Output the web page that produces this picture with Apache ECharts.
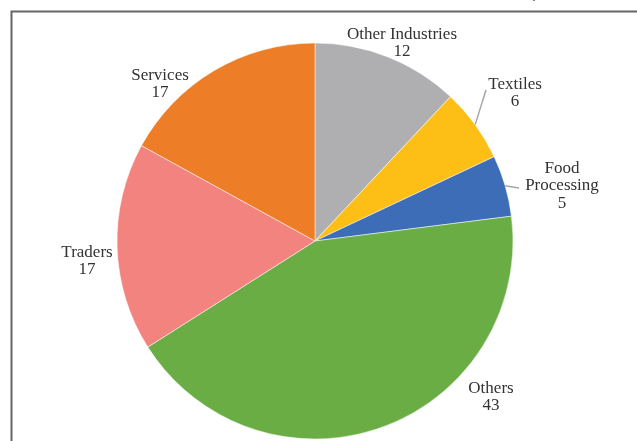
<!DOCTYPE html>
<html>
<head>
<meta charset="utf-8">
<script src="https://cdn.jsdelivr.net/npm/echarts@6/dist/echarts.min.js"></script>
<style>
html,body{margin:0;padding:0;background:#fff;}
#main{width:637px;height:441px;}
</style>
</head>
<body>
<div id="main"></div>
<script>
var categories = ['Other Industries', 'Textiles', 'Food Processing', 'Others', 'Traders', 'Services'];
var labelTexts = ['Other Industries', 'Textiles', 'Food\nProcessing', 'Others', 'Traders', 'Services'];
var values = [12, 6, 5, 43, 17, 17];
var colors = ['#AFAFB1', '#FDBF15', '#3E6DB8', '#6AAD45', '#F2837F', '#ED7D27'];

var labelPos = [
  [402, 43], [515, 93], [562, 186], [491, 397], [87, 261], [160, 84]
];
var lineEnds = [null, [486, 90], [519, 188], null, null, null];

var chart = echarts.init(document.getElementById('main'));
var data = categories.map(function (c, i) {
  var showLine = (i === 1 || i === 2);
  return {
    name: c,
    value: values[i],
    itemStyle: { color: colors[i] },
    label: { formatter: labelTexts[i] + '\n' + values[i] },
    labelLine: { show: showLine }
  };
});

chart.setOption({
  animation: false,
  graphic: [
    { type: 'rect', shape: { x: 11.5, y: 11.5, width: 640, height: 440 },
      style: { fill: 'none', stroke: '#666', lineWidth: 2 } },
    { type: 'text', x: 529, y: -10, style: { text: '4', font: '14px "Liberation Serif"', fill: '#333' } }
  ],
  series: [{
    type: 'pie',
    center: [315, 241],
    radius: 198,
    startAngle: 90,
    clockwise: true,
    data: data,
    itemStyle: { borderColor: '#fff', borderWidth: 0.5 },
    label: {
      show: true,
      position: 'outside',
      fontFamily: '"Liberation Serif", serif',
      fontSize: 17,
      lineHeight: 17.5,
      color: '#333',
      align: 'center'
    },
    labelLine: { show: false, lineStyle: { color: '#A6A6A6', width: 1.5 }, length: 8, length2: 0 },
    labelLayout: function (p) {
      var pos = labelPos[p.dataIndex];
      var out = { x: pos[0], y: pos[1], align: 'center', verticalAlign: 'middle', hideOverlap: false };
      var end = lineEnds[p.dataIndex];
      if (end && p.labelLinePoints) {
        out.labelLinePoints = [p.labelLinePoints[0], end, end];
      }
      return out;
    }
  }]
});
</script>
</body>
</html>
